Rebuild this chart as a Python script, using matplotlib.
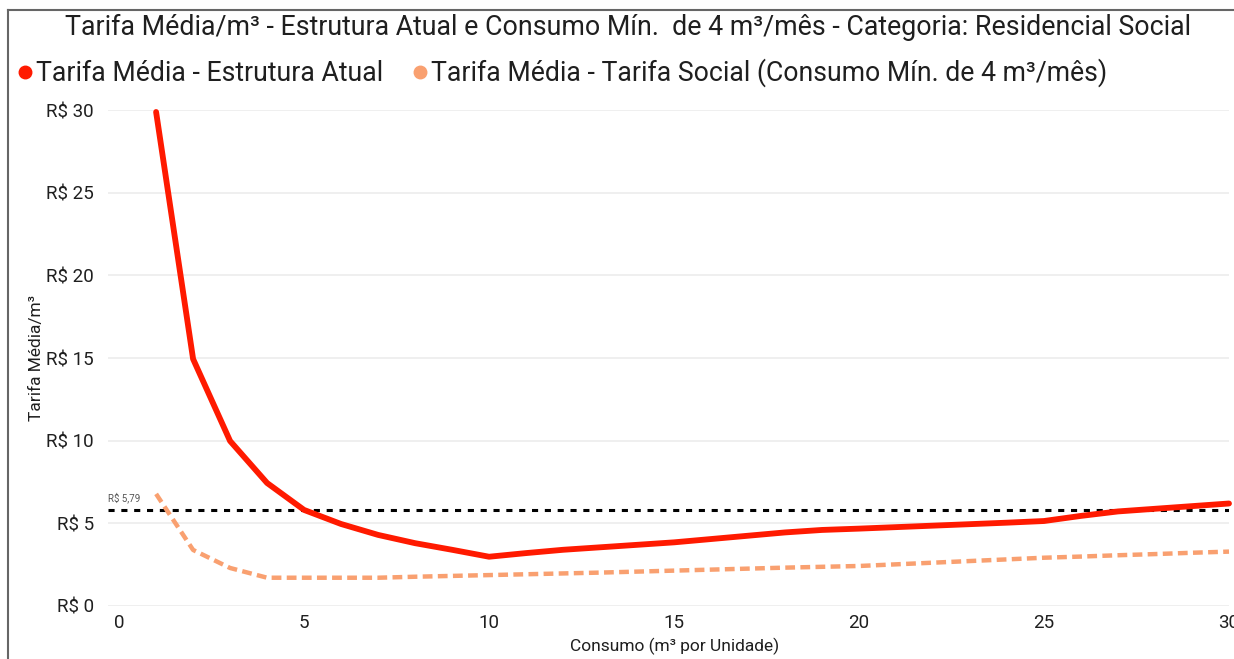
import matplotlib
matplotlib.use("Agg")
import matplotlib.pyplot as plt
from matplotlib.lines import Line2D

plt.rcParams['font.family'] = ['Roboto', 'DejaVu Sans']

consumo = list(range(1, 31))
tarifa_atual = [29.88, 14.94, 9.98, 7.44, 5.81, 4.96, 4.30, 3.80, 3.40, 2.98,
                3.20, 3.40, 3.55, 3.70, 3.85, 4.05, 4.25, 4.45, 4.60, 4.68,
                4.77, 4.86, 4.95, 5.04, 5.14, 5.45, 5.72, 5.88, 6.04, 6.20]
tarifa_social = [6.78, 3.39, 2.30, 1.71, 1.71, 1.71, 1.71, 1.77, 1.82, 1.87,
                 1.92, 1.97, 2.02, 2.08, 2.14, 2.20, 2.26, 2.32, 2.37, 2.42,
                 2.52, 2.62, 2.72, 2.82, 2.92, 2.99, 3.07, 3.14, 3.22, 3.29]
referencia = 5.79
yticks = [0, 5, 10, 15, 20, 25, 30]
xticks = [0, 5, 10, 15, 20, 25, 30]

title = "Tarifa Média/m³ - Estrutura Atual e Consumo Mín.  de 4 m³/mês - Categoria: Residencial Social"
leg1 = "Tarifa Média - Estrutura Atual"
leg2 = "Tarifa Média - Tarifa Social (Consumo Mín. de 4 m³/mês)"

RED = "#FF1A00"
SALMON = "#F9A070"
TXT = "#1F1F1F"

fig = plt.figure(figsize=(12.34, 6.59), dpi=100)
W, H = 1234, 659
ax = fig.add_axes([108 / W, (H - 606) / H, (1229 - 108) / W, (606 - 110) / H])
ax.set_xlim(-0.3, 30)
ax.set_ylim(0, 30)

for y in yticks:
    ax.axhline(y, color="#ECECEC", lw=1.2, zorder=0)

ax.axhline(referencia, color="black", lw=2.2, ls=(0, (2, 2.2)), zorder=2)
ax.plot(consumo, tarifa_social, color=SALMON, lw=3.2, ls=(0, (2.2, 1.2)),
        solid_capstyle='round', clip_on=False, zorder=3)
ax.plot(consumo, tarifa_atual, color=RED, lw=4.2, solid_capstyle='round',
        solid_joinstyle='round', clip_on=False, zorder=4)

ax.text(-0.3, referencia + 0.45, "R$ 5,79", fontsize=7, color="#555555",
        ha="left", va="bottom")

ax.set_yticks(yticks)
ax.set_yticklabels([f"R$ {v}" for v in yticks], fontsize=13.5, color=TXT)
ax.set_xticks(xticks)
ax.set_xticklabels([str(v) for v in xticks], fontsize=13.5, color=TXT)
ax.tick_params(length=0, pad=6)
ax.tick_params(axis='y', pad=10)
for s in ax.spines.values():
    s.set_visible(False)

fig.text(675 / W, 1 - 646 / H, "Consumo (m³ por Unidade)", fontsize=12.5,
         ha="center", va="center", color=TXT)
fig.text(37 / W, 1 - 358 / H, "Tarifa Média/m³", fontsize=12.5, rotation=90,
         ha="center", va="center", color=TXT)

fig.text(628 / W, 1 - 27 / H, title, fontsize=19.3, ha="center", va="center",
         color=TXT)

handles = [Line2D([], [], marker='o', ls='', color=RED, markersize=9),
           Line2D([], [], marker='o', ls='', color=SALMON, markersize=9)]
fig.legend(handles, [leg1, leg2], loc="center left",
           bbox_to_anchor=(12 / W, 1 - 73 / H), ncol=2, frameon=False,
           fontsize=19.2, handletextpad=-0.1, columnspacing=0.9,
           handlelength=1.0, labelcolor=TXT, borderpad=0, borderaxespad=0)

fig.add_artist(Line2D([8 / W, 1], [1 - 10 / H, 1 - 10 / H], color="#666666", lw=1.5))
fig.add_artist(Line2D([8 / W, 8 / W], [0, 1 - 10 / H], color="#666666", lw=1.5))

fig.savefig("out.png", dpi=100)
